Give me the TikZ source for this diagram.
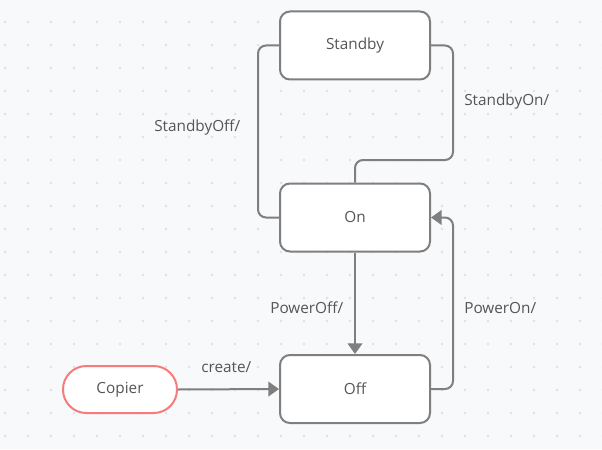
\documentclass[tikz,border=0pt]{standalone}
\usepackage{fontspec}
\setmainfont{Open Sans}
\usetikzlibrary{arrows.meta}
\definecolor{bgc}{HTML}{F8F9FB}
\definecolor{dotc}{HTML}{DFE0E3}
\definecolor{linec}{HTML}{7F7F7F}
\definecolor{textc}{HTML}{555555}
\definecolor{redc}{HTML}{F77B7B}
\tikzset{
  statebox/.style={draw=linec, line width=1.5pt, fill=white, rounded corners=7.5pt,
    minimum width=112.5pt, minimum height=51pt, text=textc, font=\fontsize{11.5}{13}\selectfont},
  startbox/.style={draw=redc, line width=1.5pt, fill=white, rounded corners=17.5pt,
    minimum width=85.5pt, minimum height=35.25pt, text=textc, font=\fontsize{11.5}{13}\selectfont},
  conn/.style={draw=linec, line width=1.5pt, rounded corners=6pt},
  arr/.style={conn, -{Triangle[length=8pt,width=11pt]}},
  lbl/.style={text=textc, font=\fontsize{11.5}{13}\selectfont, anchor=west, inner sep=0pt}
}
\begin{document}
\begin{tikzpicture}[x=0.75pt,y=-0.75pt]
\fill[bgc] (0,0) rectangle (602,449);
\useasboundingbox (0,0) rectangle (602,449);
\foreach \i in {0,...,26}{\foreach \j in {0,...,20}{\fill[dotc] (5+23*\i,-1+23*\j) circle[radius=1.1pt];}}
\node[statebox] (Standby) at (355,45.5) {Standby};
\node[statebox] (On) at (355,217.5) {On};
\node[statebox] (Off) at (355,389) {Off};
\node[startbox] (Copier) at (120,389.5) {Copier};
\coordinate (sbr) at (453,160);
\coordinate (pon) at (453,217.5);
\coordinate (sbl) at (258,45.5);
\draw[conn] (On.west) -| (sbl) -- (Standby.west);
\draw[conn] (Standby.east) -| (sbr) -| (On.north);
\draw[arr] (On.south) -- (Off.north);
\draw[arr] (Off.east) -| (pon) -- (On.east);
\draw[arr] (Copier.east) -- (Off.west);
\node[lbl] (l1) at (154,127) {StandbyOff/};
\node[lbl] (l2) at (464,102) {StandbyOn/};
\node[lbl] (l3) at (270,308) {PowerOff/};
\node[lbl] (l4) at (464,308) {PowerOn/};
\node[lbl] (l5) at (201,367) {create/};
\end{tikzpicture}
\end{document}
